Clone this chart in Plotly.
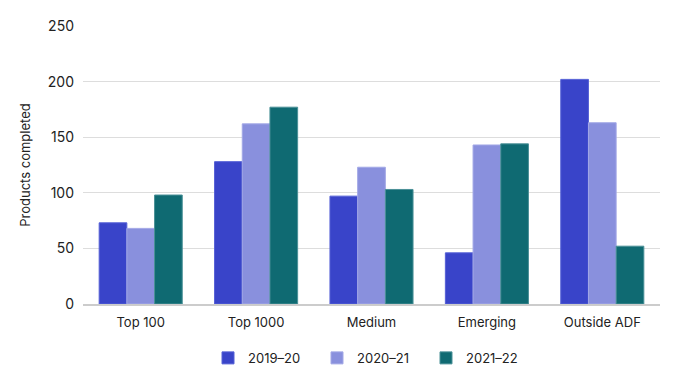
import plotly.graph_objects as go

categories = ["Top 100", "Top 1000", "Medium", "Emerging", "Outside ADF"]
series_names = ["2019–20", "2020–21", "2021–22"]
values_2019_20 = [73, 128, 97, 46, 202]
values_2020_21 = [68, 162, 123, 143, 163]
values_2021_22 = [98, 177, 103, 144, 52]
y_ticks = [0, 50, 100, 150, 200, 250]

colors = ["#3944c9", "#8990dd", "#0f6a72"]
borders = ["#5560d6", "#a3a8e6", "#4a9097"]

fig = go.Figure()
for name, vals, c, b in zip(series_names, [values_2019_20, values_2020_21, values_2021_22], colors, borders):
    fig.add_trace(go.Bar(x=categories, y=vals, name=name,
                         marker=dict(color=c, line=dict(color=b, width=1))))

fig.update_layout(
    width=681, height=377,
    margin=dict(l=75, r=29, t=18, b=81),
    barmode="group", bargap=0.28, bargroupgap=0,
    plot_bgcolor="white", paper_bgcolor="white",
    font=dict(family="Inter", size=13, color="#222222"),
    legend=dict(orientation="h", x=0.5, xanchor="center", y=-0.194, yanchor="middle",
                font=dict(size=13), itemwidth=30, traceorder="normal",
                entrywidth=64, entrywidthmode="pixels"),
    xaxis=dict(showline=True, linecolor="#cccccc", linewidth=2, ticks="",
               tickfont=dict(size=13), automargin=False, ticklabelstandoff=5),
    yaxis=dict(range=[0, 250], tickvals=y_ticks, showgrid=True, gridcolor="#dddddd",
               zeroline=False, automargin=False, ticklabelstandoff=8,
               title=dict(text="Products completed", font=dict(size=13), standoff=14),
               tickfont=dict(size=14)),
)
fig.write_html("out.html")
